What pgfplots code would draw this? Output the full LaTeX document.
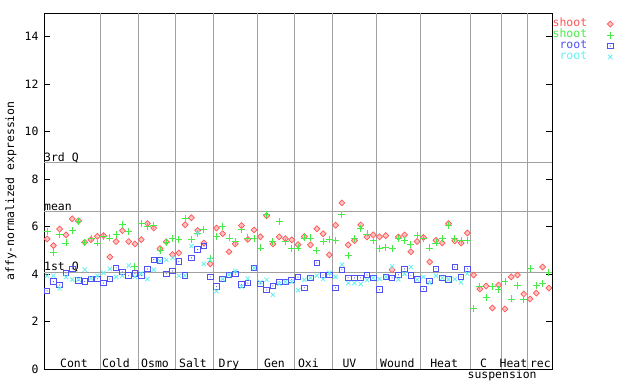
\documentclass[border=0pt]{standalone}
\usepackage{pgfplots}
\usepackage{pgfplotstable}
\pgfplotsset{compat=1.18}
\usepackage{fontspec}
\newfontfamily\gfont{DejaVu Sans Mono}
\newcommand{\gf}{\gfont\fontsize{11.5}{12}\selectfont}
\definecolor{cred}{RGB}{255,85,85}
\definecolor{cgreen}{RGB}{70,235,70}
\definecolor{cblue}{RGB}{80,80,245}
\definecolor{ccyan}{RGB}{100,240,240}
\definecolor{cgrid}{RGB}{160,160,160}
\pgfdeclareplotmark{sqdot}{%
  \pgfpathrectangle{\pgfqpoint{-\pgfplotmarksize}{-\pgfplotmarksize}}{\pgfqpoint{2\pgfplotmarksize}{2\pgfplotmarksize}}%
  \pgfusepathqstroke
  \pgfpathcircle{\pgfpointorigin}{0.6pt}%
  \pgfusepathqfill}
\pgfplotstableread{
x r g b c
1 5.48 5.79 3.29 3.93
2 5.20 4.89 3.68 3.93
3 5.90 5.65 3.54 3.40
4 5.65 5.31 4.05 3.88
5 6.33 5.82 4.22 3.77
6 6.24 6.21 3.74 3.77
7 5.34 5.34 3.68 4.19
8 5.45 5.51 3.80 3.82
9 5.59 5.31 3.80 3.93
10 5.62 5.57 3.62 4.05
11 4.72 5.52 3.79 4.22
12 5.37 5.65 4.26 3.88
13 5.83 6.09 4.09 3.93
14 5.37 5.79 3.93 4.36
15 5.27 4.30 4.02 3.88
16 5.45 6.12 3.93 4.02
17 6.13 5.99 4.21 3.79
18 5.94 6.04 4.60 4.18
19 5.07 4.99 4.57 4.55
20 5.36 5.33 4.01 4.60
21 4.82 5.48 4.13 4.68
22 4.89 5.45 4.52 3.93
23 6.08 6.34 3.94 3.94
24 6.37 5.45 4.68 5.18
25 5.84 5.70 5.03 5.73
26 5.31 5.86 5.18 4.43
27 4.43 4.64 3.88 4.60
28 5.94 5.57 3.47 3.28
29 5.70 6.02 3.79 3.79
30 4.94 5.52 3.97 3.97
31 5.27 5.36 4.00 4.13
32 6.04 5.86 3.55 3.47
33 5.46 5.52 3.62 3.81
34 5.86 5.48 4.26 4.26
35 5.57 5.10 3.59 3.66
36 6.46 6.50 3.33 3.76
37 5.27 5.36 3.50 3.13
38 5.57 6.20 3.67 3.59
39 5.49 5.36 3.67 3.67
40 5.44 5.07 3.76 3.67
41 5.24 5.10 3.88 3.32
42 5.58 5.52 3.42 3.76
43 5.23 5.52 3.84 3.84
44 5.91 4.99 4.47 3.93
45 5.70 5.36 3.96 3.79
46 4.81 5.45 3.96 4.05
47 6.06 5.41 3.42 3.88
48 7.00 6.50 4.18 4.40
49 5.23 4.78 3.84 3.62
50 5.41 5.48 3.84 3.62
51 6.07 5.94 3.84 3.58
52 5.57 5.69 3.96 3.75
53 5.65 5.41 3.84 3.84
54 5.57 5.07 3.34 3.79
55 5.62 5.14 3.88 3.88
56 4.18 5.07 3.84 4.32
57 5.56 5.48 3.97 3.77
58 5.65 5.43 4.22 4.01
59 4.94 5.23 3.93 4.30
60 5.37 5.62 3.77 3.77
61 5.54 5.48 3.37 3.88
62 4.51 5.10 3.71 3.62
63 5.42 5.31 4.22 3.93
64 5.31 5.48 3.84 3.84
65 6.13 6.04 3.77 3.77
66 5.40 5.48 4.30 3.79
67 5.31 5.42 3.88 3.65
68 5.73 5.42 4.22 4.02
69 3.96 2.57 nan nan
70 3.37 3.46 nan nan
71 3.50 3.03 nan nan
72 2.57 3.46 nan nan
73 3.54 3.34 nan nan
74 2.53 3.67 nan nan
75 3.88 2.95 nan nan
76 3.96 3.51 nan nan
77 3.16 2.92 nan nan
78 2.95 4.22 nan nan
79 3.20 3.51 nan nan
80 4.30 3.62 nan nan
81 3.41 4.05 nan nan
}\data
\begin{document}
\begin{tikzpicture}
\begin{axis}[
  scale only axis, width=508bp, height=356bp,
  at={(0,0)}, anchor=south west,
  xmin=0.5, xmax=81.5, ymin=0, ymax=15,
  xtick=\empty, ytick={0,2,...,14},
  tick align=inside, major tick length=6bp,
  every tick/.style={black, line width=0.8bp},
  axis line style={black, line width=0.8bp},
  /pgf/number format/assume math mode=true,
  yticklabel style={font=\gf, xshift=-2bp},
  ylabel={affy-normalized expression},
  ylabel style={font=\gf, at={(axis description cs:-0.065,0.5)}, anchor=center},
  clip=false,
  legend plot pos=right,
  legend cell align=right,
  legend style={draw=none, fill=none, at={(axis description cs:1.122,0.985)}, anchor=north east,
    font=\gf, row sep=0pt, inner sep=0pt,
    nodes={inner sep=0.6bp, text height=7.8bp, text depth=2bp},
    /tikz/every odd column/.append style={column sep=19bp}},
]
% grid lines
\foreach \v in {9.5,15.5,21.5,27.5,34.5,40.5,46.5,53.5,60.5,68.5,73.5,77.5} {
  \edef\temp{\noexpand\draw[cgrid, line width=0.8bp] (axis cs:\v,0) -- (axis cs:\v,15);}\temp
}
\draw[cgrid, line width=0.8bp] (axis cs:0.5,8.69) -- (axis cs:81.5,8.69);
\draw[cgrid, line width=0.8bp] (axis cs:0.5,6.62) -- (axis cs:81.5,6.62);
\draw[cgrid, line width=0.8bp] (axis cs:0.5,4.09) -- (axis cs:81.5,4.09);
\node[font=\gf, anchor=base west, inner sep=0pt, yshift=1.3bp] at (axis cs:0.5,8.69) {3rd Q};
\node[font=\gf, anchor=base west, inner sep=0pt, yshift=1.3bp] at (axis cs:0.5,6.62) {mean};
\node[font=\gf, anchor=base west, inner sep=0pt, yshift=1.3bp] at (axis cs:0.5,4.09) {1st Q};

\addplot[only marks, mark=square*, mark size=2.1bp, mark options={rotate=45, draw=cred, fill=cred!35, line width=0.7bp}] table[x=x,y=r]{\data};
\addlegendentry{\textcolor{cred}{shoot}}
\addplot[only marks, mark=+, mark size=3.5bp, mark options={draw=cgreen, line width=0.9bp}] table[x=x,y=g]{\data};
\addlegendentry{\textcolor{cgreen}{shoot}}
\addplot[only marks, mark=sqdot, mark size=2.8bp, mark options={draw=cblue, fill=cblue, line width=0.9bp}] table[x=x,y=b]{\data};
\addlegendentry{\textcolor{cblue}{root}}
\addplot[only marks, mark=x, mark size=3bp, mark options={draw=ccyan, line width=0.8bp}] table[x=x,y=c]{\data};
\addlegendentry{\textcolor{ccyan}{root}}

% group labels
\foreach \xx/\lab in {5.28/Cont, 11.98/Cold, 18.2/Osmo, 24.26/Salt, 30.0/Dry, 37.26/Gen, 42.65/Oxi, 49.2/UV, 56.85/Wound, 64.3/Heat, 70.6/C, 75.35/Heat, 79.65/rec} {
  \edef\temp{\noexpand\node[font=\noexpand\gf, anchor=base, inner sep=0pt] at (axis cs:\xx,0.08) {\lab};}\temp
}
\node[font=\gf, anchor=base, inner sep=0pt] at (axis cs:73.55,-0.40) {suspension};
\end{axis}
\pgfresetboundingbox
\path (-44bp,-15bp) rectangle (596bp,369bp);
\end{tikzpicture}
\end{document}
